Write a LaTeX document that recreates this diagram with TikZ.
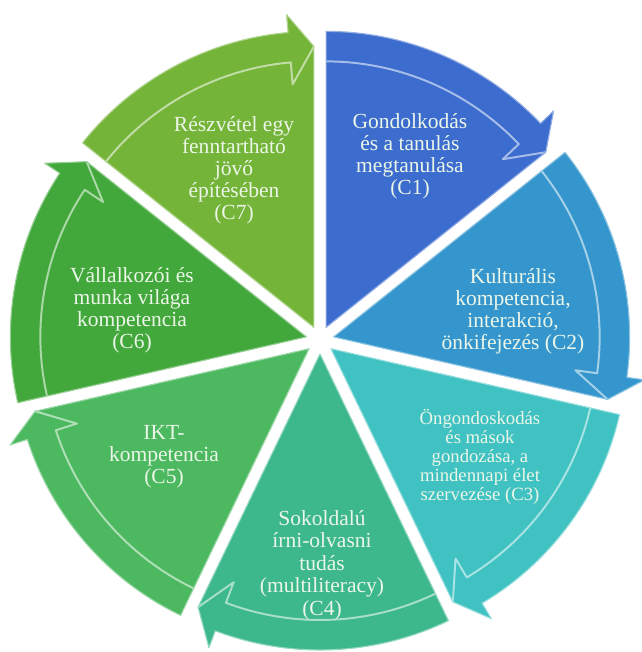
\documentclass[tikz,border=0pt]{standalone}
\usepackage{fontspec}
\setmainfont{Liberation Serif}
\usetikzlibrary{calc}
\definecolor{cyc_one}{RGB}{60,108,206}
\definecolor{cyc_two}{RGB}{52,150,204}
\definecolor{cyc_three}{RGB}{64,194,194}
\definecolor{cyc_four}{RGB}{60,184,140}
\definecolor{cyc_five}{RGB}{76,184,96}
\definecolor{cyc_six}{RGB}{66,168,60}
\definecolor{cyc_seven}{RGB}{116,180,56}
\definecolor{cyc_text}{RGB}{236,246,232}

\begin{document}
\begin{tikzpicture}[
        x=0.025cm, y=0.025cm,
        seg/.style={line width=0.8pt, line join=round},
        rim/.style={line width=1.4pt, line join=round},
        lbl/.style={text=cyc_text, align=center, inner sep=0pt, font=\rmfamily}
    ]
    \useasboundingbox (-320,-312) rectangle (321,340);
    % sieben Segmente, im Uhrzeigersinn ab oben
    \foreach \i/\fillc/\px/\py/\fs/\lh/\txt in {
        1/cyc_one/90/184/15.3/15.6/{Gondolkodás\\és a tanulás\\megtanulása\\(C1)},
        2/cyc_two/193/29/15.3/15.6/{Kulturális\\kompetencia,\\interakció,\\önkifejezés (C2)},
        3/cyc_three/160/-117/13.3/13.6/{Öngondoskodás\\és mások\\gondozása, a\\mindennapi élet\\szervezése (C3)},
        4/cyc_four/2/-225/15.3/16/{Sokoldalú\\írni-olvasni\\tudás\\(multiliteracy)\\(C4)},
        5/cyc_five/-156/-117/15.3/15.6/{IKT-\\kompetencia\\(C5)},
        6/cyc_six/-188/30/15.3/15.6/{Vállalkozói és\\munka világa\\kompetencia\\(C6)},
        7/cyc_seven/-86/170/15.3/15.6/{Részvétel egy\\fenntartható\\jövő\\építésében\\(C7)}}{
        \pgfmathsetmacro{\as}{90-(\i-1)*360/7}
        \pgfmathsetmacro{\ae}{90-\i*360/7}
        \pgfmathsetmacro{\ab}{\ae+5}
        \pgfmathsetmacro{\am}{90-(\i-0.5)*360/7}
        \begin{scope}[shift={(\am:14)}]
            \fill[\fillc] (0,0) -- (\as:296) arc[start angle=\as, end angle=\ab, radius=296]
                -- (\ab:314) -- (\ae:281) -- cycle;
            \draw[rim, \fillc!45!white] (\as:266) arc[start angle=\as, end angle=\ab, radius=266]
                -- (\ab:244) -- (\ae:281);
            \draw[seg, \fillc!55!white] (0,0) -- (\as:296) arc[start angle=\as, end angle=\ab, radius=296]
                -- (\ab:314) -- (\ae:281) -- cycle;
        \end{scope}
        \node[lbl, font=\fontsize{\fs}{\lh}\selectfont] (c\i) at (\px,\py) {\txt};
    }
\end{tikzpicture}
\end{document}
